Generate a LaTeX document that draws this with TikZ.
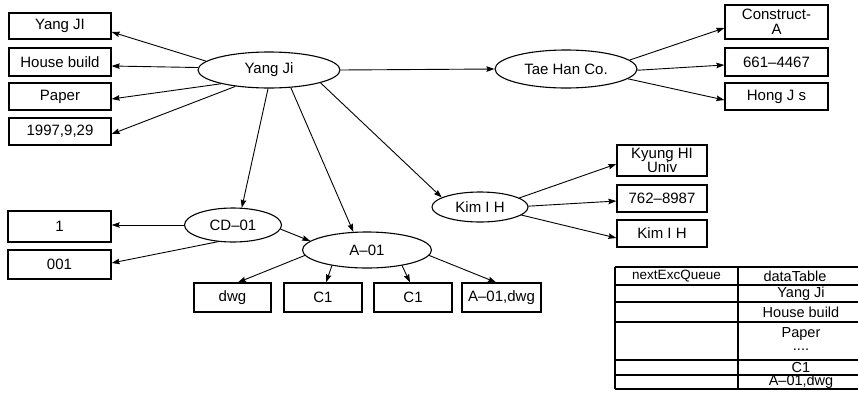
\documentclass[tikz,border=0pt]{standalone}
\usepackage{fontspec}
\setmainfont{Liberation Sans}
\usetikzlibrary{arrows.meta,shapes.geometric}
\begin{document}
\begin{tikzpicture}[x=1pt,y=-1pt,
  box/.style={draw,line width=1.3pt,rectangle,inner sep=0pt,align=center,font=\fontsize{15}{14.5}\selectfont},
  oval/.style={draw,line width=1.1pt,ellipse,inner sep=0pt,font=\fontsize{15}{15}\selectfont},
  link/.style={line width=0.9pt,-{Stealth[length=8pt,width=5.5pt,inset=1pt]}},
  cell/.style={inner sep=0pt,font=\fontsize{14.5}{14}\selectfont},
  hcell/.style={inner sep=0pt,font=\fontsize{13.5}{14}\selectfont},
  grid/.style={line width=1.2pt}]
\useasboundingbox (0,0) rectangle (858,394);

% ellipses
\node[oval,minimum width=142pt,minimum height=36pt] (yang) at (269,70) {Yang Ji};
\node[oval,minimum width=142pt,minimum height=38pt] (tae) at (566,69) {Tae Han Co.};
\node[oval,minimum width=96pt,minimum height=30pt] (kim) at (480,207) {Kim I H};
\node[oval,minimum width=97pt,minimum height=34pt] (cd) at (233,225) {CD–01};
\node[oval,minimum width=129pt,minimum height=36pt] (a01) at (367,250) {A–01};

% left boxes
\node[box,minimum width=102pt,minimum height=26pt] (yjb) at (60,26) {Yang JI};
\node[box,minimum width=102pt,minimum height=28pt] (hb) at (60,62) {House build};
\node[box,minimum width=102pt,minimum height=27pt] (pb) at (60,96.5) {Paper};
\node[box,minimum width=102pt,minimum height=27pt] (db) at (60,131.5) {1997,9,29};

% right boxes
\node[box,minimum width=103pt,minimum height=34pt] (cb) at (776.5,22) {Construct-\\A};
\node[box,minimum width=103pt,minimum height=28pt] (pnb) at (776.5,62) {661–4467};
\node[box,minimum width=103pt,minimum height=27pt] (hjb) at (776.5,96.5) {Hong J s};

\node[box,minimum width=90pt,minimum height=31pt] (kyb) at (662,160.5) {Kyung HI\\Univ};
\node[box,minimum width=90pt,minimum height=27pt] (tb) at (662,198.5) {762–8987};
\node[box,minimum width=90pt,minimum height=27pt] (kib) at (662,233.5) {Kim I H};

\node[box,minimum width=103pt,minimum height=31pt] (oneb) at (59.5,226.5) {1};
\node[box,minimum width=103pt,minimum height=29pt] (zb) at (59.5,264.5) {001};

\node[box,minimum width=77pt,minimum height=29pt] (dwg) at (232.5,297.5) {dwg};
\node[box,minimum width=78pt,minimum height=29pt] (c1a) at (323,297.5) {C1};
\node[box,minimum width=78pt,minimum height=29pt] (c1b) at (413,297.5) {C1};
\node[box,minimum width=79pt,minimum height=29pt] (adw) at (501.5,297.5) {A–01,dwg};

% connectors
\draw[link] (yang.172.6) -- ([yshift=-6pt]yjb.east);
\draw[link] (yang.178.4) -- ([yshift=-4pt]hb.east);
\draw[link] (yang.196.4) -- ([yshift=-2.5pt]pb.east);
\draw[link] (yang.206.6) -- ([yshift=-2.5pt]db.east);
\draw[link] (yang.0) -- (tae.180);
\draw[link] (yang.267) -- (cd.63.4);
\draw[link] (yang.321.6) -- (a01.127.9);
\draw[link] (yang.346.5) -- (kim.166.9);

\draw[link] (tae.8) -- ([yshift=-6pt]cb.west);
\draw[link] (tae.359) -- ([yshift=-3pt]pnb.west);
\draw[link] (tae.351.4) -- ([yshift=-3.5pt]hjb.west);

\draw[link] (kim.13.1) -- ([yshift=-3.5pt]kyb.west);
\draw[link] (kim.1) -- ([yshift=-2.5pt]tb.west);
\draw[link] (kim.349.5) -- ([yshift=-4.5pt]kib.west);

\draw[link] (cd.180) -- ([yshift=1.5pt]oneb.east);
\draw[link] (cd.228.6) -- ([yshift=1.5pt]zb.east);
\draw[link] (cd.355) -- (a01.171.5);

\draw[link] (a01.185) -- ([xshift=5.5pt]dwg.north);
\draw[link] (a01.204.7) -- ([xshift=3pt]c1a.north);
\draw[link] (a01.336) -- ([xshift=-3pt]c1b.north);
\draw[link] (a01.355) -- ([xshift=-5.5pt]adw.north);

% table
\foreach \yy in {267,285,302,322,360,375,389}
  \draw[grid] (615,\yy) -- (860,\yy);
\draw[grid] (615,267) -- (615,389);
\draw[grid] (738,267) -- (738,389);
\node[hcell] (th1) at (676.5,276) {nextExcQueue};
\node[cell] (th2) at (795,276) {dataTable};
\node[cell] (tr1) at (801,293.5) {Yang Ji};
\node[cell] (tr2) at (801,312) {House build};
\node[cell] (tr3) at (801,334) {Paper};
\node[cell] (tr4) at (801,350) {....};
\node[cell] (tr5) at (801,367.5) {C1};
\node[cell] (tr6) at (801,382) {A–01,dwg};
\end{tikzpicture}
\end{document}
